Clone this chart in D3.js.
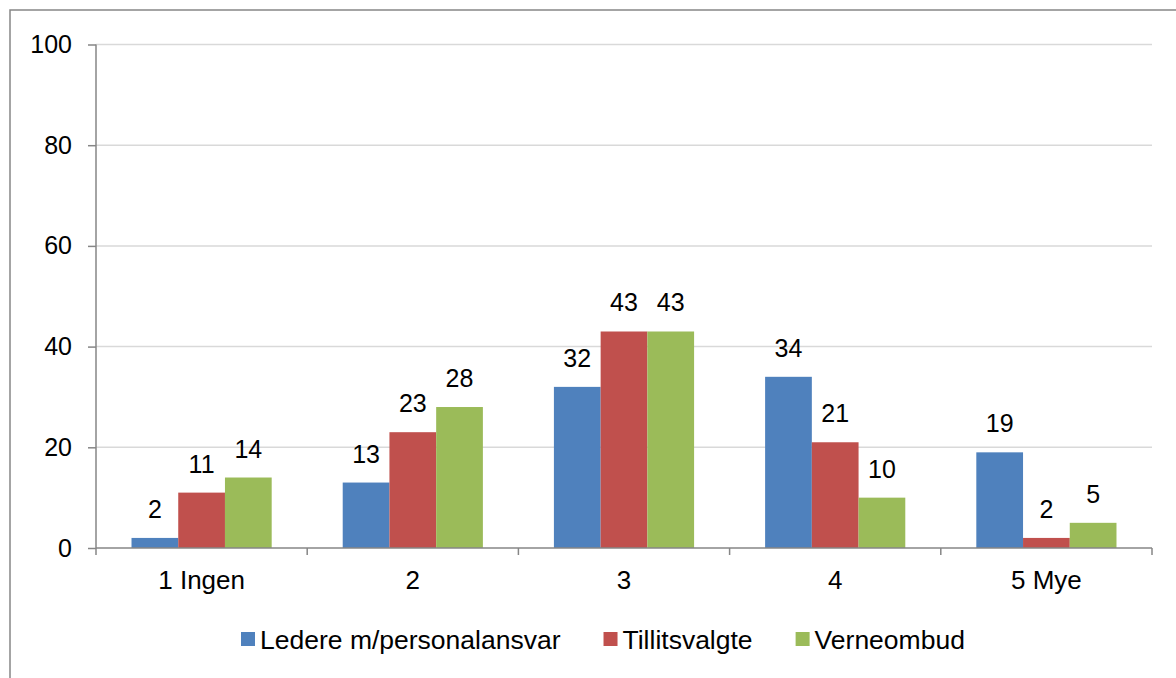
<!DOCTYPE html>
<html>
<head>
<meta charset="utf-8">
<script src="https://cdn.jsdelivr.net/npm/d3@7"></script>
<style>
  body { margin: 0; background: #fff; }
  text { font-family: "Liberation Sans", Arial, sans-serif; fill: #000; }
</style>
</head>
<body>
<svg width="1176" height="678"></svg>
<script>
var categories = ["1 Ingen", "2", "3", "4", "5 Mye"];
var seriesNames = ["Ledere m/personalansvar", "Tillitsvalgte", "Verneombud"];
var ledere = [2, 13, 32, 34, 19];
var tillitsvalgte = [11, 23, 43, 21, 2];
var verneombud = [14, 28, 43, 10, 5];
var yTicks = [0, 20, 40, 60, 80, 100];
var colors = ["#4f81bd", "#c0504d", "#9bbb59"];

var svg = d3.select("svg");
var values = [ledere, tillitsvalgte, verneombud];

var plotLeft = 96, plotRight = 1152, plotTop = 44.5, plotBottom = 548;

// outer frame (runs off the right and bottom edges)
svg.append("rect")
    .attr("x", 10).attr("y", 10)
    .attr("width", 1300).attr("height", 800)
    .attr("fill", "none")
    .attr("stroke", "#868686")
    .attr("stroke-width", 1.5);

var y = d3.scaleLinear().domain([0, 100]).range([plotBottom, plotTop]);

var x0 = d3.scaleBand().domain(categories).range([plotLeft, plotRight]).padding(0);

var x1 = d3.scaleBand().domain(d3.range(seriesNames.length))
    .range([0, x0.bandwidth()])
    .paddingInner(0)
    .paddingOuter(0.76);

// gridlines
svg.append("g")
    .selectAll("line")
    .data(yTicks.slice(1))
    .enter().append("line")
    .attr("x1", plotLeft).attr("x2", plotRight)
    .attr("y1", function(d) { return y(d); })
    .attr("y2", function(d) { return y(d); })
    .attr("stroke", "#d9d9d9")
    .attr("stroke-width", 1.5);

// y axis
var yAxis = svg.append("g")
    .attr("transform", "translate(" + plotLeft + ",0)")
    .call(d3.axisLeft(y).tickValues(yTicks).tickSize(8).tickPadding(16));
yAxis.select(".domain").attr("stroke", "#868686").attr("stroke-width", 1.5)
    .attr("d", "M0," + y(0) + "V" + y(100));
yAxis.selectAll(".tick line").attr("stroke", "#868686").attr("stroke-width", 1.5);
yAxis.selectAll(".tick text")
    .style("font-family", "Liberation Sans, Arial, sans-serif")
    .attr("font-size", 25)
    .attr("fill", "#000");

// bars
var groups = svg.append("g")
    .selectAll("g")
    .data(categories)
    .enter().append("g")
    .attr("transform", function(d) { return "translate(" + x0(d) + ",0)"; });

groups.selectAll("rect")
    .data(function(d, i) { return values.map(function(v, s) { return {s: s, v: v[i]}; }); })
    .enter().append("rect")
    .attr("x", function(d) { return x1(d.s); })
    .attr("width", x1.bandwidth())
    .attr("y", function(d) { return y(d.v); })
    .attr("height", function(d) { return y(0) - y(d.v); })
    .attr("fill", function(d) { return colors[d.s]; });

groups.selectAll("text")
    .data(function(d, i) { return values.map(function(v, s) { return {s: s, v: v[i]}; }); })
    .enter().append("text")
    .attr("x", function(d) { return x1(d.s) + x1.bandwidth() / 2; })
    .attr("y", function(d) { return y(d.v) - 20; })
    .attr("text-anchor", "middle")
    .attr("font-size", 25)
    .text(function(d) { return d.v; });

// x axis
var xAxis = svg.append("g")
    .attr("transform", "translate(0," + plotBottom + ")");
xAxis.append("line")
    .attr("x1", plotLeft).attr("x2", plotRight)
    .attr("stroke", "#868686").attr("stroke-width", 1.5);
xAxis.selectAll("line.tk")
    .data(d3.range(categories.length + 1))
    .enter().append("line")
    .attr("class", "tk")
    .attr("x1", function(i) { return plotLeft + i * x0.step(); })
    .attr("x2", function(i) { return plotLeft + i * x0.step(); })
    .attr("y1", 0).attr("y2", 7)
    .attr("stroke", "#868686").attr("stroke-width", 1.5);
xAxis.selectAll("text")
    .data(categories)
    .enter().append("text")
    .attr("x", function(d) { return x0(d) + x0.bandwidth() / 2; })
    .attr("y", 41)
    .attr("text-anchor", "middle")
    .attr("font-size", 26)
    .text(function(d) { return d; });

// legend
var legend = svg.append("g").attr("transform", "translate(241,632)");
var lx = 0;
seriesNames.forEach(function(name, i) {
    var item = legend.append("g").attr("transform", "translate(" + lx + ",0)");
    item.append("rect")
        .attr("width", 14).attr("height", 14)
        .attr("fill", colors[i]);
    var t = item.append("text")
        .attr("x", 19).attr("y", 17)
        .attr("font-size", 26.5)
        .text(name);
    lx += 19 + t.node().getComputedTextLength() + 43;
});
</script>
</body>
</html>
